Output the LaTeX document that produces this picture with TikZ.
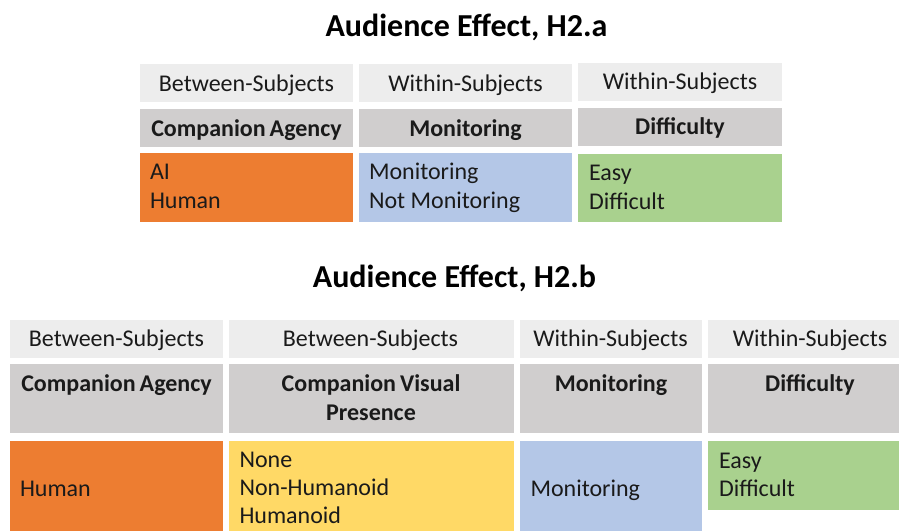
\documentclass[tikz,border=0pt]{standalone}
\usepackage{fontspec}
\setmainfont{Carlito}
\definecolor{rowA}{HTML}{EDEDED}
\definecolor{rowB}{HTML}{D0CECE}
\definecolor{corange}{HTML}{ED7D31}
\definecolor{cblue}{HTML}{B4C7E7}
\definecolor{cgreen}{HTML}{A9D18E}
\definecolor{cyellow}{HTML}{FFD966}
\definecolor{textc}{HTML}{1A1A1A}
\begin{document}
\begin{tikzpicture}[x=1pt,y=-1pt,
  cell/.style={anchor=north west, inner sep=0pt, outer sep=0pt, draw=none},
  txt/.style={inner sep=0pt, outer sep=0pt, font=\fontsize{24}{28.5}\selectfont, text=textc},
  hdr/.style={txt, font=\fontsize{24}{28.5}\selectfont\bfseries},
  ttl/.style={inner sep=0pt, outer sep=0pt, font=\fontsize{32}{38}\selectfont\bfseries, text=black}]
\useasboundingbox (0,0) rectangle (899,530);
\clip (0,0) rectangle (899,530);
\fill[white] (0,0) rectangle (899,530);

% ---------- Title 1 ----------
\node[ttl, anchor=base] (title1) at (466.5,36.7) {Audience Effect, H2.a};

% ---------- Table 1 cells ----------
\node[cell, fill=rowA, minimum width=213pt, minimum height=38pt] (a1) at (140,64) {};
\node[cell, fill=rowA, minimum width=213pt, minimum height=38pt] (b1) at (359,64) {};
\node[cell, fill=rowA, minimum width=204pt, minimum height=38pt] (c1) at (578,63) {};
\node[cell, fill=rowB, minimum width=213pt, minimum height=38pt] (a2) at (140,109) {};
\node[cell, fill=rowB, minimum width=213pt, minimum height=38pt] (b2) at (359,109) {};
\node[cell, fill=rowB, minimum width=204pt, minimum height=38pt] (c2) at (578,108) {};
\node[cell, fill=corange, minimum width=213pt, minimum height=69pt] (a3) at (140,153) {};
\node[cell, fill=cblue, minimum width=213pt, minimum height=69pt] (b3) at (359,153) {};
\node[cell, fill=cgreen, minimum width=204pt, minimum height=68pt] (c3) at (578,154) {};

% ---------- Table 1 texts ----------
\node[txt, anchor=base] (a1t) at (246.5,91) {Between-Subjects};
\node[txt, anchor=base] (b1t) at (465.5,91) {Within-Subjects};
\node[txt, anchor=base] (c1t) at (680,89.5) {Within-Subjects};
\node[hdr, anchor=base] (a2t) at (246.5,136) {Companion\,Agency};
\node[hdr, anchor=base] (b2t) at (465.5,136) {Monitoring};
\node[hdr, anchor=base] (c2t) at (680,134.5) {Difficulty};
\node[txt, anchor=base west] (a3t1) at (150,179.5) {AI};
\node[txt, anchor=base west] (a3t2) at (150,208.5) {Human};
\node[txt, anchor=base west] (b3t1) at (369,179.5) {Monitoring};
\node[txt, anchor=base west] (b3t2) at (369,208.5) {Not Monitoring};
\node[txt, anchor=base west] (c3t1) at (589,180) {Easy};
\node[txt, anchor=base west] (c3t2) at (589,209) {Difficult};

% ---------- Title 2 ----------
\node[ttl, anchor=base] (title2) at (454.5,287.3) {Audience Effect, H2.b};

% ---------- Table 2 cells ----------
\node[cell, fill=rowA, minimum width=213pt, minimum height=38pt] (A1) at (9.5,319.5) {};
\node[cell, fill=rowA, minimum width=285pt, minimum height=38pt] (B1) at (228.5,319.5) {};
\node[cell, fill=rowA, minimum width=181.5pt, minimum height=38pt] (C1) at (520,319.5) {};
\node[cell, fill=rowA, minimum width=200pt, minimum height=38pt] (D1) at (708,319.5) {};
\node[cell, fill=rowB, minimum width=213pt, minimum height=68.5pt] (A2) at (9.5,364) {};
\node[cell, fill=rowB, minimum width=285pt, minimum height=68.5pt] (B2) at (228.5,364) {};
\node[cell, fill=rowB, minimum width=181.5pt, minimum height=68.5pt] (C2) at (520,364) {};
\node[cell, fill=rowB, minimum width=200pt, minimum height=68.5pt] (D2) at (708,364) {};
\node[cell, fill=corange, minimum width=213pt, minimum height=100pt] (A3) at (9.5,441) {};
\node[cell, fill=cyellow, minimum width=285pt, minimum height=100pt] (B3) at (228.5,441) {};
\node[cell, fill=cblue, minimum width=181.5pt, minimum height=100pt] (C3) at (520,441) {};
\node[cell, fill=cgreen, minimum width=200pt, minimum height=69pt] (D3) at (708,441) {};

% ---------- Table 2 texts ----------
\node[txt, anchor=base] (A1t) at (116.5,346.5) {Between-Subjects};
\node[txt, anchor=base] (B1t) at (370.5,346.5) {Between-Subjects};
\node[txt, anchor=base] (C1t) at (610.5,346.5) {Within-Subjects};
\node[txt, anchor=base] (D1t) at (810,346.5) {Within-Subjects};
\node[hdr, anchor=base] (A2t) at (116.5,391.5) {Companion\,Agency};
\node[hdr, anchor=base] (B2t1) at (371,391.5) {Companion\,Visual};
\node[hdr, anchor=base] (B2t2) at (371,420) {Presence};
\node[hdr, anchor=base] (C2t) at (611,391.5) {Monitoring};
\node[hdr, anchor=base] (D2t) at (810,391.5) {Difficulty};
\node[txt, anchor=base west] (A3t) at (20,496.5) {Human};
\node[txt, anchor=base west] (B3t1) at (239.5,467.3) {None};
\node[txt, anchor=base west] (B3t2) at (239.5,495.5) {Non-Humanoid};
\node[txt, anchor=base west] (B3t3) at (239.5,523.5) {Humanoid};
\node[txt, anchor=base west] (C3t) at (530.5,496.5) {Monitoring};
\node[txt, anchor=base west] (D3t1) at (719,468) {Easy};
\node[txt, anchor=base west] (D3t2) at (719,496.5) {Difficult};
\end{tikzpicture}
\end{document}
